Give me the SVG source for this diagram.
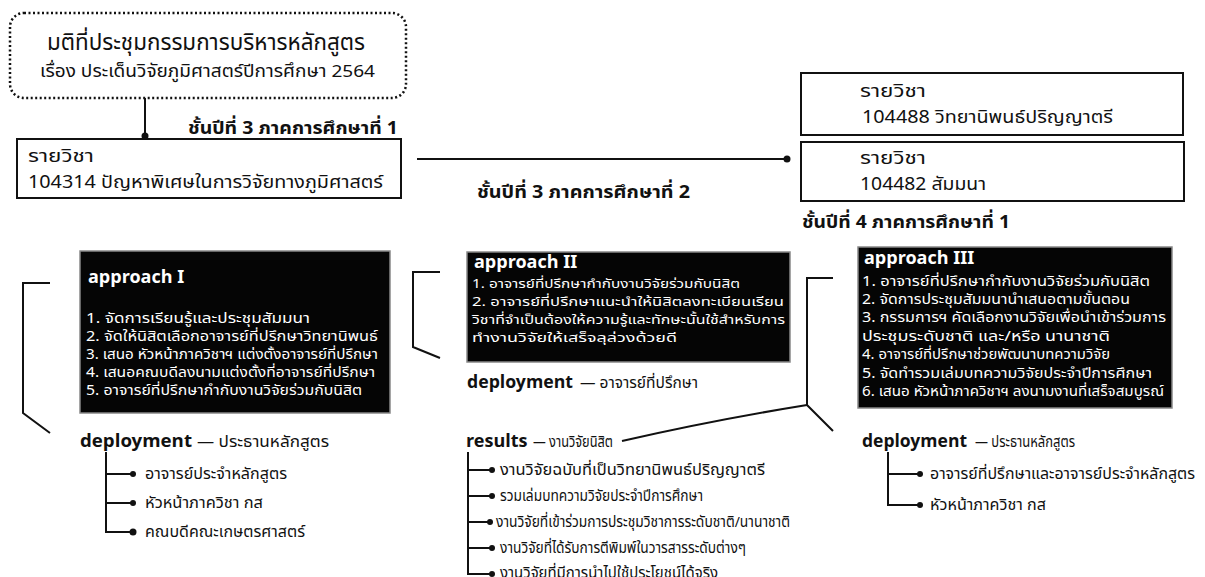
<svg xmlns="http://www.w3.org/2000/svg" width="1205" height="577" viewBox="0 0 1205 577">
<defs>
<style>
text{font-family:"Noto Sans Thai","Noto Sans Thai Looped","Noto Sans","DejaVu Sans",sans-serif;fill:#111}
.box{fill:#fff;stroke:#111;stroke-width:2}
.ap{fill:#050505;stroke:#888;stroke-width:1.5}
.apt{fill:#fff;font-size:13.5px}
.apt2{fill:#fff;font-size:12.5px}
.aph{fill:#fff;font-size:18px;font-weight:bold}
.sem{font-size:18px;font-weight:bold}
.cl{font-size:17.5px}
.dep{font-size:18px;font-weight:bold}
.sub{font-size:15px}
.li{font-size:15px}
.ln{fill:none;stroke:#111;stroke-width:2}
.dot{fill:#111}
</style>
</defs>
<rect width="1205" height="577" fill="#fff"/>

<g id="connectors">
<path class="ln" d="M145 98 V136"/>
<circle class="dot" cx="145" cy="136" r="3.5"/>
<path class="ln" d="M417 159 H787"/>
<circle class="dot" cx="787" cy="159" r="3.5"/>
<path class="ln" d="M50 283 H23 V413 L50 433"/>
<path class="ln" d="M440 272 H413 V347 L440 358"/>
<path class="ln" d="M833 278 H807 V405 L833 431"/>
<path class="ln" d="M807 405 Q714 420 622 441"/>
<path class="ln" d="M106 452 V532 H131 M106 474 H131 M106 503 H131"/>
<circle class="dot" cx="133" cy="474" r="3"/><circle class="dot" cx="133" cy="503" r="3"/><circle class="dot" cx="133" cy="532" r="3.5"/>
<path class="ln" d="M468 452 V574 H490 M468 470 H490 M468 496 H490 M468 522 H488 M468 548 H490"/>
<circle class="dot" cx="492" cy="470" r="3"/><circle class="dot" cx="492" cy="496" r="3"/><circle class="dot" cx="490" cy="522" r="3"/><circle class="dot" cx="492" cy="548" r="3"/><circle class="dot" cx="492" cy="574" r="3"/>
<path class="ln" d="M888 452 V505 H918 M888 474 H918"/>
<circle class="dot" cx="920" cy="474" r="3"/><circle class="dot" cx="920" cy="505" r="3"/>
</g>

<g id="resolution">
<rect x="10" y="13" width="396" height="85" rx="14" fill="#fff" stroke="#111" stroke-width="2.5" stroke-dasharray="2 2.5"/>
<text x="47" y="50" font-size="22.5" textLength="318" lengthAdjust="spacingAndGlyphs">มติที่ประชุมกรรมการบริหารหลักสูตร</text>
<text x="40" y="77" font-size="17" textLength="335" lengthAdjust="spacingAndGlyphs">เรื่อง ประเด็นวิจัยภูมิศาสตร์ปีการศึกษา 2564</text>
</g>

<g id="sem31"><text class="sem" x="188" y="134" textLength="210" lengthAdjust="spacingAndGlyphs">ชั้นปีที่ 3 ภาคการศึกษาที่ 1</text></g>
<g id="sem32"><text class="sem" x="477" y="198" textLength="213" lengthAdjust="spacingAndGlyphs">ชั้นปีที่ 3 ภาคการศึกษาที่ 2</text></g>
<g id="sem41"><text class="sem" x="802" y="228" textLength="208" lengthAdjust="spacingAndGlyphs">ชั้นปีที่ 4 ภาคการศึกษาที่ 1</text></g>

<g id="course104314">
<rect class="box" x="17" y="139" width="384" height="59"/>
<text class="cl" x="28" y="162" textLength="66" lengthAdjust="spacingAndGlyphs">รายวิชา</text>
<text class="cl" x="28" y="188" textLength="355" lengthAdjust="spacingAndGlyphs">104314 ปัญหาพิเศษในการวิจัยทางภูมิศาสตร์</text>
</g>

<g id="course104488">
<rect class="box" x="801" y="73" width="382" height="62"/>
<text class="cl" x="860" y="97" textLength="66" lengthAdjust="spacingAndGlyphs">รายวิชา</text>
<text class="cl" x="862" y="123" textLength="251" lengthAdjust="spacingAndGlyphs">104488 วิทยานิพนธ์ปริญญาตรี</text>
</g>

<g id="course104482">
<rect class="box" x="801" y="142" width="383" height="59"/>
<text class="cl" x="860" y="164" textLength="66" lengthAdjust="spacingAndGlyphs">รายวิชา</text>
<text class="cl" x="860" y="190" textLength="126" lengthAdjust="spacingAndGlyphs">104482 สัมมนา</text>
</g>

<g id="approach1">
<rect class="ap" x="80" y="251" width="310" height="162"/>
<text class="aph" x="88" y="283">approach I</text>
<text class="apt" x="86" y="323" textLength="224" lengthAdjust="spacingAndGlyphs">1. จัดการเรียนรู้และประชุมสัมมนา</text>
<text class="apt" x="86" y="341" textLength="292" lengthAdjust="spacingAndGlyphs">2. จัดให้นิสิตเลือกอาจารย์ที่ปรึกษาวิทยานิพนธ์</text>
<text class="apt" x="86" y="359" textLength="292" lengthAdjust="spacingAndGlyphs">3. เสนอ หัวหน้าภาควิชาฯ แต่งตั้งอาจารย์ที่ปรึกษา</text>
<text class="apt" x="86" y="377" textLength="289" lengthAdjust="spacingAndGlyphs">4. เสนอคณบดีลงนามแต่งตั้งที่อาจารย์ที่ปรึกษา</text>
<text class="apt" x="86" y="395" textLength="276" lengthAdjust="spacingAndGlyphs">5. อาจารย์ที่ปรึกษากำกับงานวิจัยร่วมกับนิสิต</text>
</g>

<g id="approach2">
<rect class="ap" x="467" y="252" width="323" height="110"/>
<text class="aph" x="474" y="268" font-size="17">approach II</text>
<text class="apt2" x="472" y="287.5" textLength="268" lengthAdjust="spacingAndGlyphs">1. อาจารย์ที่ปรึกษากำกับงานวิจัยร่วมกับนิสิต</text>
<text class="apt2" x="472" y="305.5" textLength="312" lengthAdjust="spacingAndGlyphs">2. อาจารย์ที่ปรึกษาแนะนำให้นิสิตลงทะเบียนเรียน</text>
<text class="apt2" x="472" y="323.5" textLength="313" lengthAdjust="spacingAndGlyphs">วิชาที่จำเป็นต้องให้ความรู้และทักษะนั้นใช้สำหรับการ</text>
<text class="apt2" x="472" y="341.5" textLength="205" lengthAdjust="spacingAndGlyphs">ทำงานวิจัยให้เสร็จลุล่วงด้วยดี</text>
</g>

<g id="approach3">
<rect class="ap" x="858" y="247" width="314" height="161"/>
<text class="aph" x="864" y="264" font-size="16.5">approach III</text>
<text class="apt" x="862" y="285.5" textLength="288" lengthAdjust="spacingAndGlyphs">1. อาจารย์ที่ปรึกษากำกับงานวิจัยร่วมกับนิสิต</text>
<text class="apt" x="862" y="303.5" textLength="268" lengthAdjust="spacingAndGlyphs">2. จัดการประชุมสัมมนานำเสนอตามขั้นตอน</text>
<text class="apt" x="862" y="322" textLength="304" lengthAdjust="spacingAndGlyphs">3. กรรมการฯ คัดเลือกงานวิจัยเพื่อนำเข้าร่วมการ</text>
<text class="apt" x="862" y="340.5" textLength="248" lengthAdjust="spacingAndGlyphs">ประชุมระดับชาติ และ/หรือ นานาชาติ</text>
<text class="apt" x="862" y="359" textLength="248" lengthAdjust="spacingAndGlyphs">4. อาจารย์ที่ปรึกษาช่วยพัฒนาบทความวิจัย</text>
<text class="apt" x="862" y="377.5" textLength="290" lengthAdjust="spacingAndGlyphs">5. จัดทำรวมเล่มบทความวิจัยประจำปีการศึกษา</text>
<text class="apt" x="862" y="396" textLength="302" lengthAdjust="spacingAndGlyphs">6. เสนอ หัวหน้าภาควิชาฯ ลงนามงานที่เสร็จสมบูรณ์</text>
</g>

<g id="deploy1">
<text class="dep" x="80" y="447" textLength="112" lengthAdjust="spacingAndGlyphs">deployment</text>
<text class="sub" x="197" y="447" textLength="132" lengthAdjust="spacingAndGlyphs">— ประธานหลักสูตร</text>
<text class="li" x="145" y="479" textLength="142" lengthAdjust="spacingAndGlyphs">อาจารย์ประจำหลักสูตร</text>
<text class="li" x="145" y="508" textLength="118" lengthAdjust="spacingAndGlyphs">หัวหน้าภาควิชา กส</text>
<text class="li" x="145" y="537" textLength="160" lengthAdjust="spacingAndGlyphs">คณบดีคณะเกษตรศาสตร์</text>
</g>

<g id="deploy2">
<text class="dep" x="467" y="388" textLength="106" lengthAdjust="spacingAndGlyphs">deployment</text>
<text class="sub" x="580" y="388" textLength="118" lengthAdjust="spacingAndGlyphs">— อาจารย์ที่ปรึกษา</text>
</g>

<g id="results">
<text class="dep" x="466" y="447">results</text>
<text class="sub" x="533" y="447" textLength="80" lengthAdjust="spacingAndGlyphs">— งานวิจัยนิสิต</text>
<text class="li" x="500" y="475" textLength="265" lengthAdjust="spacingAndGlyphs">งานวิจัยฉบับที่เป็นวิทยานิพนธ์ปริญญาตรี</text>
<text class="li" x="500" y="501" textLength="203" lengthAdjust="spacingAndGlyphs">รวมเล่มบทความวิจัยประจำปีการศึกษา</text>
<text class="li" x="496" y="527" textLength="294" lengthAdjust="spacingAndGlyphs">งานวิจัยที่เข้าร่วมการประชุมวิชาการระดับชาติ/นานาชาติ</text>
<text class="li" x="500" y="553" textLength="246" lengthAdjust="spacingAndGlyphs">งานวิจัยที่ได้รับการตีพิมพ์ในวารสารระดับต่างๆ</text>
<text class="li" x="500" y="578" textLength="218" lengthAdjust="spacingAndGlyphs">งานวิจัยที่มีการนำไปใช้ประโยชน์ได้จริง</text>
</g>

<g id="deploy3">
<text class="dep" x="862" y="447" textLength="105" lengthAdjust="spacingAndGlyphs">deployment</text>
<text class="sub" x="975" y="447" textLength="100" lengthAdjust="spacingAndGlyphs">— ประธานหลักสูตร</text>
<text class="li" x="930" y="479" textLength="265" lengthAdjust="spacingAndGlyphs">อาจารย์ที่ปรึกษาและอาจารย์ประจำหลักสูตร</text>
<text class="li" x="930" y="510" textLength="116" lengthAdjust="spacingAndGlyphs">หัวหน้าภาควิชา กส</text>
</g>
</svg>
